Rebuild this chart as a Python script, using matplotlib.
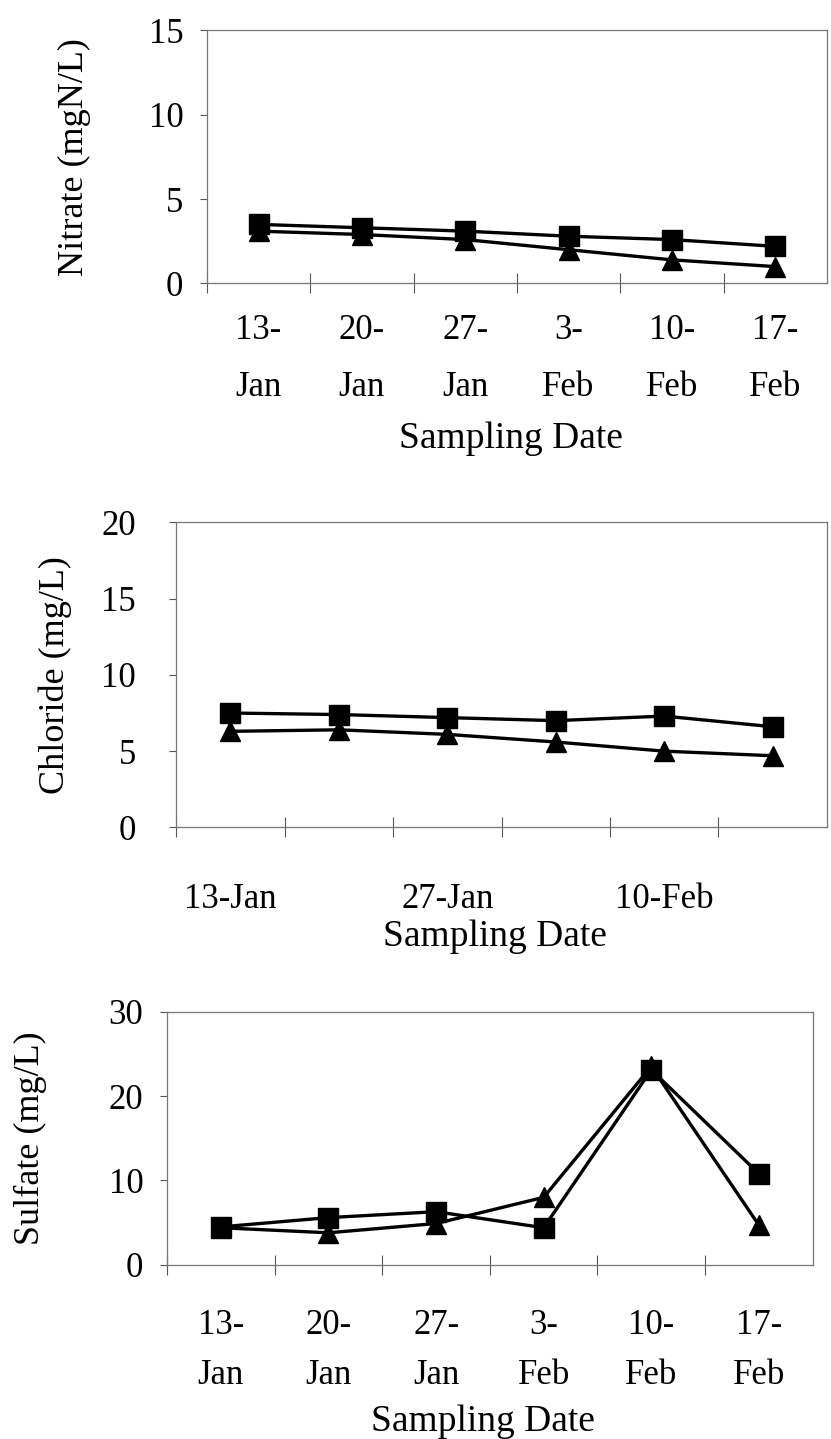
import matplotlib
matplotlib.use('Agg')
import matplotlib.pyplot as plt

# sampling dates (weekly)
dates = ['13-Jan', '20-Jan', '27-Jan', '3-Feb', '10-Feb', '17-Feb']

nitrate_sq = [3.5, 3.3, 3.1, 2.8, 2.6, 2.2]
nitrate_tri = [3.1, 2.9, 2.6, 2.0, 1.4, 1.0]

chloride_sq = [7.5, 7.4, 7.2, 7.0, 7.3, 6.6]
chloride_tri = [6.3, 6.4, 6.1, 5.6, 5.0, 4.7]

sulfate_sq = [4.5, 5.6, 6.3, 4.4, 23.1, 10.8]
sulfate_tri = [4.4, 3.8, 4.9, 8.0, 23.5, 4.7]

plt.rcParams['font.family'] = ['Liberation Serif', 'DejaVu Serif']


def draw_panel(fig, rect, sq, tri, ylabel, yticks, ylab_x, xlab_y, tick_pad,
               ytick_pad=10, labels_every=1, two_line=True, line_gap=1.5):
    ax = fig.add_axes(rect)
    x = list(range(len(dates)))
    ax.plot(x, tri, color='black', lw=2.4, marker='^', markersize=15, zorder=3)
    ax.plot(x, sq, color='black', lw=2.4, marker='s', markersize=14, zorder=4)

    ax.set_xlim(-0.5, len(dates) - 0.5)
    ax.set_ylim(yticks[0], yticks[-1])
    ax.set_yticks(yticks)
    ax.set_yticklabels([str(t) for t in yticks], fontsize=25)

    # tick marks on category boundaries, labels centred on categories
    ax.set_xticks([i - 0.5 for i in range(len(dates))])
    ax.set_xticklabels([])
    ax.tick_params(axis='x', which='major', direction='inout', length=14,
                   width=0.8, color='#555555')
    ax.set_xticks(x[::labels_every], minor=True)
    if two_line:
        labs = [d.replace('-', '-\n') for d in dates[::labels_every]]
    else:
        labs = dates[::labels_every]
    ax.set_xticklabels(labs, minor=True, fontsize=25, linespacing=line_gap)
    ax.tick_params(axis='x', which='minor', length=0, pad=tick_pad)
    ax.tick_params(axis='y', direction='out', length=5, width=0.8,
                   color='#555555', pad=ytick_pad)

    for s in ax.spines.values():
        s.set_color('#777777')
        s.set_linewidth(0.9)

    ax.set_ylabel(ylabel, fontsize=26, va='center')
    ax.yaxis.set_label_coords(ylab_x, 0.5)
    ax.set_xlabel('Sampling Date', fontsize=27, va='center')
    ax.xaxis.set_label_coords(0.49, xlab_y)
    return ax


fig = plt.figure(figsize=(8.31, 14.39), dpi=100)

draw_panel(fig, [0.249, 0.803, 0.746, 0.176], nitrate_sq, nitrate_tri,
           'Nitrate (mgN/L)', [0, 5, 10, 15], -0.213, -0.614, 22,
           ytick_pad=12, line_gap=1.95)
draw_panel(fig, [0.212, 0.425, 0.783, 0.212], chloride_sq, chloride_tri,
           'Chloride (mg/L)', [0, 5, 10, 15, 20], -0.186, -0.36, 40,
           ytick_pad=24, labels_every=2, two_line=False)
draw_panel(fig, [0.201, 0.121, 0.777, 0.176], sulfate_sq, sulfate_tri,
           'Sulfate (mg/L)', [0, 10, 20, 30], -0.212, -0.62, 32,
           ytick_pad=12, line_gap=1.65)

fig.savefig('out.png', dpi=100)
